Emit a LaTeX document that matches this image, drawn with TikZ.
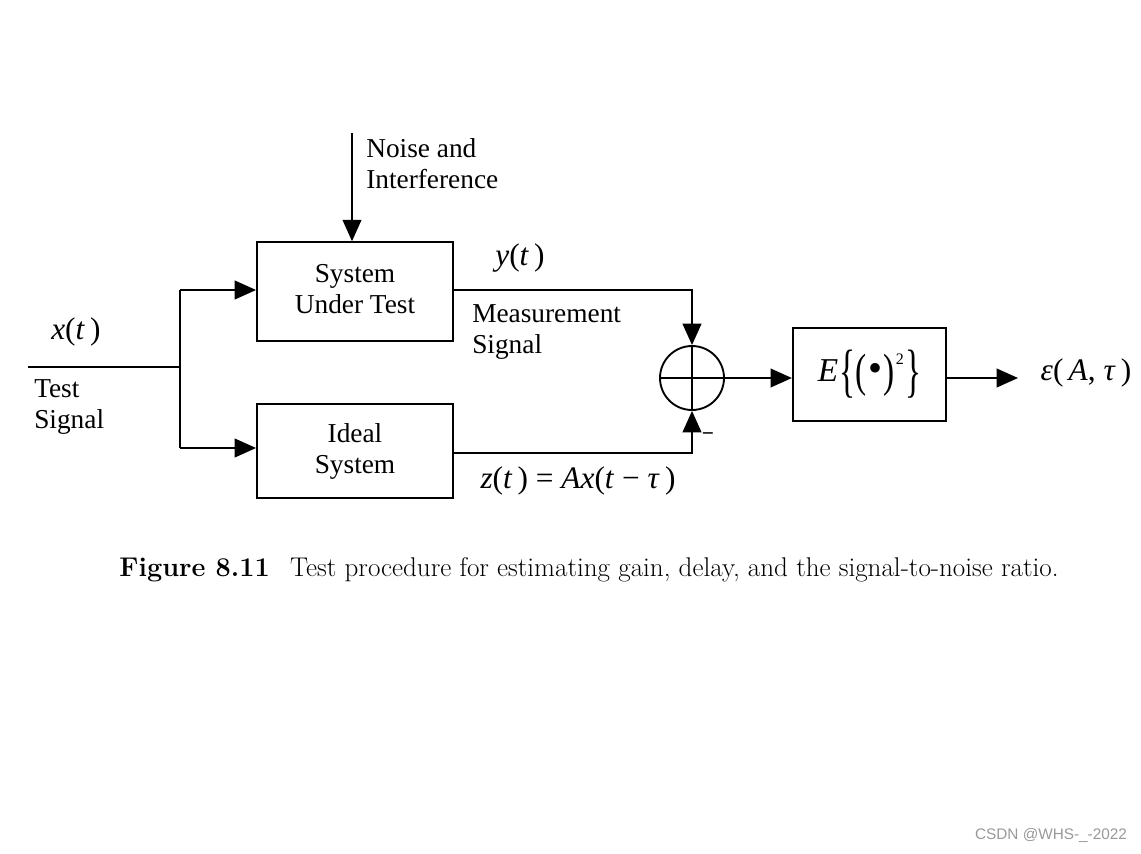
\documentclass[tikz,border=0pt]{standalone}
\usepackage{fontspec}
\usepackage{graphicx}
\usetikzlibrary{arrows.meta}
\newfontfamily\tms{Liberation Serif}
\newfontfamily\wsans{Liberation Sans}
\begin{document}
\begin{tikzpicture}[x=0.75pt,y=-0.75pt,
  wire/.style={line width=1.4pt},
  arr/.style={wire,-{Triangle[length=16pt,width=14pt]}},
  blk/.style={draw,line width=1.4pt,minimum width=147pt,inner sep=0pt,align=center,font=\tms\fontsize{20.5}{23.3}\selectfont},
  lbl/.style={inner sep=0pt,font=\tms\fontsize{20.5}{23.3}\selectfont},
  mlbl/.style={inner sep=0pt,font=\tms\fontsize{23.5}{26}\selectfont}]
\useasboundingbox (0,0) rectangle (1141,853);
% blocks
\node[blk,minimum height=74pt] (sut) at (355,291.5) {\raisebox{3pt}{\begin{tabular}{@{}c@{}}System\\Under Test\end{tabular}}};
\node[blk,minimum height=70.5pt] (ideal) at (355,451) {Ideal\\System};
\node[draw,circle,line width=1.4pt,minimum size=48pt,inner sep=0pt] (sum) at (692,378) {};
\draw[wire] (sum.north) -- (sum.south) (sum.west) -- (sum.east);
\node[draw,line width=1.4pt,minimum width=115pt,minimum height=70pt,inner sep=0pt,font=\tms\fontsize{25}{28}\selectfont] (E) at (869.5,374.5)
  {\textit{E}\kern1pt\raisebox{-7pt}{\scalebox{1}[1.75]{\{}}\raisebox{-4pt}{\scalebox{1}[1.4]{(}}\kern1pt\raisebox{0pt}{\scalebox{1.2}{•}}\kern1pt\raisebox{-4pt}{\scalebox{1}[1.4]{)}}\kern1pt\raisebox{13pt}{\fontsize{12}{12}\selectfont 2}\kern1pt\raisebox{-7pt}{\scalebox{1}[1.75]{\}}}};
% coordinates
\coordinate (in) at (28,367);
\coordinate (split) at (180,367);
\coordinate (bt) at (180,290);
\coordinate (bb) at (180,448);
\coordinate (noise) at (352,133);
\coordinate (yc) at (692,290);
\coordinate (zc) at (692,453);
\coordinate (out) at (1018,378);
% wires
\draw[wire] (in) -- (split);
\draw[wire] (bt) -- (bb);
\draw[arr] (bt) -- (sut.west |- bt);
\draw[arr] (bb) -- (ideal.west |- bb);
\draw[arr] (noise) -- (sut.north -| noise);
\draw[arr] (sut.east |- yc) -- (yc) -- (sum.north);
\draw[arr] (ideal.east |- zc) -- (zc) -- (sum.south);
\draw[arr] (sum.east) -- (E.west |- sum.east);
\draw[arr] (E.east |- out) -- (out);
% labels
\node[lbl,anchor=west,align=left] (nlab) at (366,164) {Noise and\\Interference};
\node[mlbl] (xlab) at (76,332) {\textit{x}(\textit{t}\,)};
\node[lbl,anchor=west,align=left] (tlab) at (34,407) {Test\\Signal};
\node[mlbl] (ylab) at (520,258) {\textit{y}(\textit{t}\,)};
\node[lbl,anchor=west,align=left] (mlab) at (472,332) {Measurement\\Signal};
\node[mlbl] (zlab) at (578,481) {\textit{z}(\textit{t}\,) = \textit{Ax}(\textit{t} {\tms−} \textit{τ}\,)};
\node[lbl,font=\tms\fontsize{16}{16}\selectfont\bfseries] (minus) at (708,437) {−};
\node[mlbl] (olab) at (1086,373) {\textit{ε}(\,\textit{A}, \textit{τ}\,)};
% caption
\node[inner sep=0pt,font=\fontsize{20.3}{23}\selectfont] (cap) at (589,570) {\textbf{Figure 8.11}\hspace{0.75em}Test procedure for estimating gain, delay, and the signal-to-noise ratio.};
\node[inner sep=0pt,text=black!40,font=\wsans\fontsize{11.5}{12}\selectfont] (wm) at (1051,835) {CSDN @WHS-\_-2022};
\end{tikzpicture}
\end{document}
